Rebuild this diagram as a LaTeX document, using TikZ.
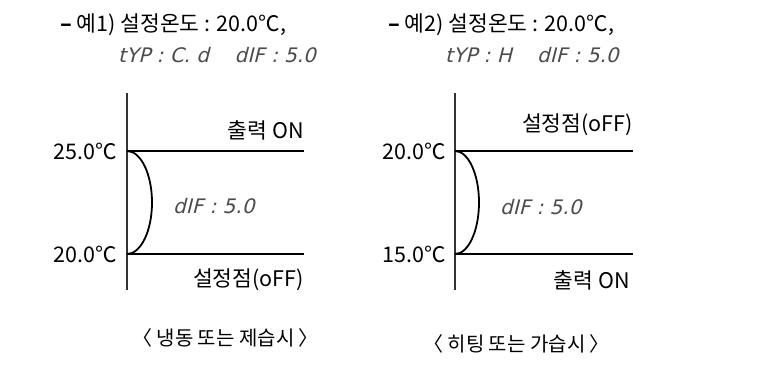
\documentclass[tikz,border=0pt]{standalone}
\usepackage{fontspec}
\setmainfont{Noto Sans CJK KR}
\newfontfamily\segfont{DejaVu Sans}[FakeSlant=0.25]
\begin{document}
\begin{tikzpicture}[x=1pt,y=-1pt,
  txt/.style={inner sep=0pt,font=\fontsize{21.5}{24}\selectfont},
  captxt/.style={inner sep=0pt,font=\fontsize{20}{24}\selectfont},
  seg/.style={inner sep=0pt,text=black!70,font=\segfont\fontsize{20}{22}\selectfont},
  axis/.style={line width=1.3pt,black!80},
  lvl/.style={line width=1.3pt},
  hyst/.style={line width=1.8pt}]
\useasboundingbox[fill=white] (0,0) rectangle (764,372);
% ---------- left panel ----------
\node[txt,anchor=west] (t1) at (60,25) {\textbf{–} 예1) 설정온도 : 20.0℃,};
\node[seg,anchor=west] (s1) at (118,55) {tYP : C. d\ \ \ \ dIF : 5.0};
\coordinate (a1t) at (127,93);
\coordinate (a1b) at (127,290);
\coordinate (h1) at (127,151);
\coordinate (l1) at (127,254);
\coordinate (h1e) at (304,151);
\coordinate (l1e) at (304,254);
\draw[axis] (a1t) -- (a1b);
\draw[lvl] (h1) -- (h1e);
\draw[lvl] (l1) -- (l1e);
\draw[hyst] (h1) arc[start angle=90,end angle=-90,x radius=25,y radius=-51.5];
\node[txt,anchor=east] (v1a) at (117,151) {25.0℃};
\node[txt,anchor=east] (v1b) at (117,254) {20.0℃};
\node[txt,anchor=east] (o1) at (304,130) {출력 ON};
\node[txt,anchor=east] (f1) at (304,280) {설정점(oFF)};
\node[seg,anchor=west] (d1) at (173,206) {dIF : 5.0};
\node[captxt,anchor=west] (c1) at (132,338) {〈 냉동 또는 제습시 〉};
% ---------- right panel ----------
\node[txt,anchor=west] (t2) at (388,25) {\textbf{–} 예2) 설정온도 : 20.0℃,};
\node[seg,anchor=west] (s2) at (445,55) {tYP : H\ \ \ \ dIF : 5.0};
\coordinate (a2t) at (455,93);
\coordinate (a2b) at (455,290);
\coordinate (h2) at (455,151);
\coordinate (l2) at (455,254);
\coordinate (h2e) at (633,151);
\coordinate (l2e) at (633,254);
\draw[axis] (a2t) -- (a2b);
\draw[lvl] (h2) -- (h2e);
\draw[lvl] (l2) -- (l2e);
\draw[hyst] (h2) arc[start angle=90,end angle=-90,x radius=24,y radius=-51.5];
\node[txt,anchor=east] (v2a) at (446,151) {20.0℃};
\node[txt,anchor=east] (v2b) at (446,254) {15.0℃};
\node[txt,anchor=east] (f2) at (633,125) {설정점(oFF)};
\node[txt,anchor=east] (o2) at (630,280) {출력 ON};
\node[seg,anchor=west] (d2) at (500,207) {dIF : 5.0};
\node[captxt,anchor=west] (c2) at (423,344) {〈 히팅 또는 가습시 〉};
\end{tikzpicture}
\end{document}
